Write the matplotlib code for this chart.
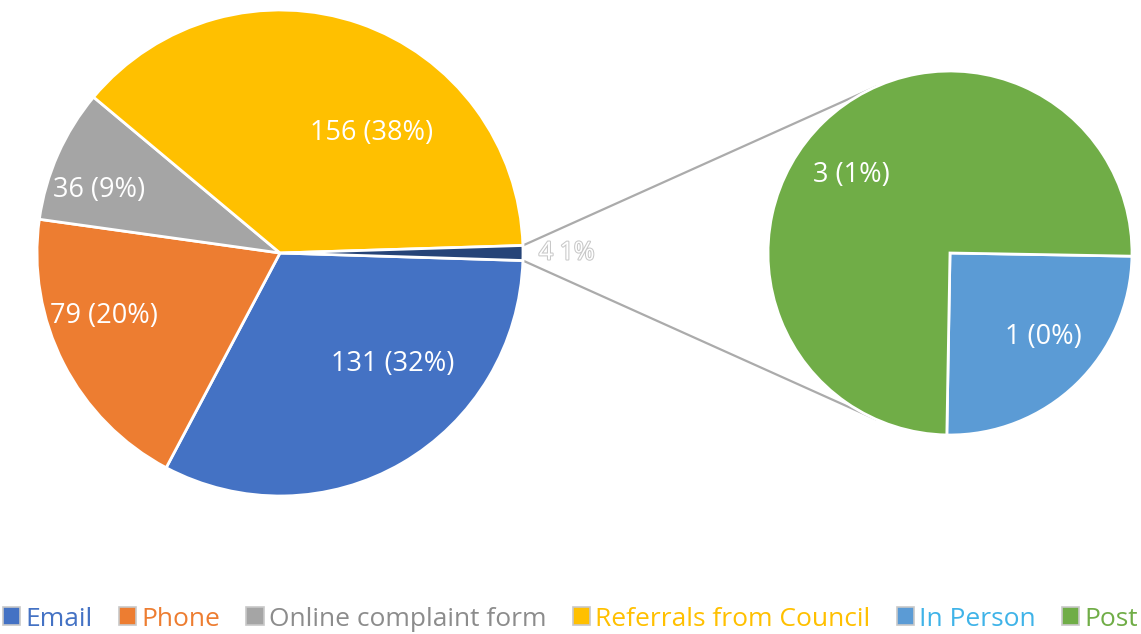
import numpy as np
import matplotlib.pyplot as plt
import matplotlib.patheffects as pe
from matplotlib.patches import Patch

plt.rcParams['font.family'] = ['Open Sans', 'DejaVu Sans']

# main pie
main_labels = ['Email', 'Phone', 'Online complaint form', 'Referrals from Council', 'Other']
main_values = [131, 79, 36, 156, 4]
main_pct = ['32%', '20%', '9%', '38%', '1%']
main_colors = ['#4472C4', '#ED7D31', '#A5A5A5', '#FFC000', '#264478']

# secondary pie (split of "Other")
sub_labels = ['In Person', 'Post']
sub_values = [1, 3]
sub_pct = ['0%', '1%']
sub_colors = ['#5B9BD5', '#70AD47']

legend_text_colors = ['#4472C4', '#ED7D31', '#8C8C8C', '#FFC000', '#3FB3E8', '#70AD47']

W, H = 1141, 634
fig = plt.figure(figsize=(W / 100, H / 100), dpi=100)
ax = fig.add_axes([0, 0, 1, 1])

c1, r1 = (280, 381), 243
c2, r2 = (950, 381), 182

half = 360 * main_values[-1] / sum(main_values) / 2
ax.pie(main_values, colors=main_colors, center=c1, radius=r1, startangle=-half,
       counterclock=False, wedgeprops=dict(edgecolor='white', linewidth=2), frame=True)
ax.pie(sub_values, colors=sub_colors, center=c2, radius=r2, startangle=-1,
       counterclock=False, wedgeprops=dict(edgecolor='white', linewidth=2), frame=True)
ax.set_xlim(0, W)
ax.set_ylim(0, H)
ax.set_aspect('equal')
ax.axis('off')

# connector lines, tangent to the secondary pie
for s in (1, -1):
    p = np.array([c1[0] + r1 * np.cos(np.radians(half)), c1[1] + s * r1 * np.sin(np.radians(half))])
    v = np.array(c2) - p
    dist = np.hypot(*v)
    th = np.arccos(r2 / dist)
    base = np.arctan2(-v[1], -v[0])
    q = np.array(c2) + r2 * np.array([np.cos(base - s * th), np.sin(base - s * th)])
    ax.plot([p[0], q[0]], [p[1], q[1]], color='#ABABAB', lw=1.6, zorder=0)

# data labels (angle in degrees, distance as fraction of radius)
main_pos = [(-44.7, 0.65), (199.8, 0.77), (160.9, 0.79), (52.5, 0.62), (0, 1.18)]
for v, pc, (a, f) in zip(main_values, main_pct, main_pos):
    x = c1[0] + f * r1 * np.cos(np.radians(a))
    y = c1[1] + f * r1 * np.sin(np.radians(a))
    if f > 1:
        ax.text(x, y, f'{v} {pc}', color='white', fontsize=18, ha='center', va='center',
                path_effects=[pe.withStroke(linewidth=1.5, foreground='#C8C8C8')])
    else:
        ax.text(x, y, f'{v} ({pc})', color='white', fontsize=19.5, ha='center', va='center')

sub_pos = [(-41.8, 0.69), (141.8, 0.69)]
for v, pc, (a, f) in zip(sub_values, sub_pct, sub_pos):
    x = c2[0] + f * r2 * np.cos(np.radians(a))
    y = c2[1] + f * r2 * np.sin(np.radians(a))
    ax.text(x, y, f'{v} ({pc})', color='white', fontsize=19.5, ha='center', va='center')

handles = [Patch(facecolor=c, edgecolor='#C8C8C8', linewidth=1.2)
           for c in main_colors[:4] + sub_colors]
leg = fig.legend(handles, main_labels[:4] + sub_labels, loc='center', ncol=6,
                 bbox_to_anchor=(0.5, 1 - 619 / H), frameon=False, fontsize=19,
                 handlelength=0.65, handleheight=0.65, handletextpad=0.2,
                 columnspacing=1.0, labelcolor=legend_text_colors)

fig.savefig('out.png', dpi=100)
